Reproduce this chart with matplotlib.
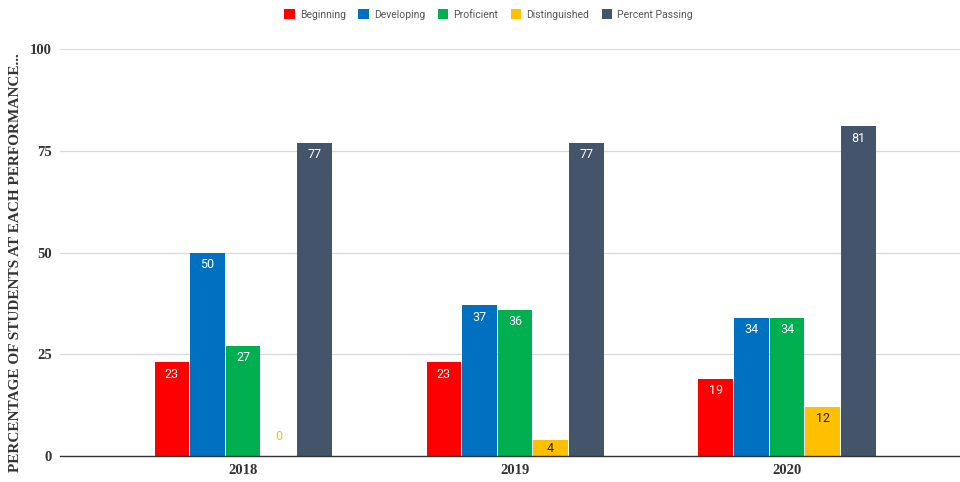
import matplotlib
matplotlib.use("Agg")
import matplotlib.pyplot as plt
import numpy as np

years = ["2018", "2019", "2020"]
series = ["Beginning", "Developing", "Proficient", "Distinguished", "Percent Passing"]
beginning = [23, 23, 19]
developing = [50, 37, 34]
proficient = [27, 36, 34]
distinguished = [0, 4, 12]
percent_passing = [77, 77, 81]
values = [beginning, developing, proficient, distinguished, percent_passing]
colors = ["#FF0000", "#0070C0", "#00B050", "#FFC000", "#44546A"]
yticks = [0, 25, 50, 75, 100]

fig = plt.figure(figsize=(9.6, 4.82), dpi=100)
ax = fig.add_axes([0.0625, 0.054, 0.9375, 0.844])

x = np.arange(len(years))
pitch = 0.131
width = 0.127

for i, (name, vals, col) in enumerate(zip(series, values, colors)):
    xs = x + (i - 2) * pitch
    ax.bar(xs, vals, width, color=col, label=name, zorder=3)
    for xi, v in zip(xs, vals):
        if v == 0:
            ax.annotate(str(v), (xi, v), xytext=(0, 14), textcoords="offset points",
                        ha="center", va="center", color=col, fontsize=9, family="Roboto")
        elif name == "Distinguished":
            ax.annotate(str(v), (xi, v), xytext=(0, -6 if v < 8 else -8.5),
                        textcoords="offset points", ha="center", va="center",
                        color="#222222", fontsize=9, family="Roboto")
        else:
            ax.annotate(str(v), (xi, v), xytext=(0, -8.5), textcoords="offset points",
                        ha="center", va="center", color="white", fontsize=9, family="Roboto")

ax.set_xlim(-0.673, 2.636)
ax.set_ylim(0, 100)
ax.set_yticks(yticks)
ax.set_xticks(x)
ax.set_xticklabels(years)
for lab in ax.get_xticklabels() + ax.get_yticklabels():
    lab.set_family("Liberation Serif")
    lab.set_fontweight("bold")
    lab.set_fontsize(10.5)
    lab.set_color("#333333")
ax.tick_params(axis="both", length=0, pad=6)
ax.grid(axis="y", color="#d9d9d9", linewidth=0.9, zorder=0)
for s in ["top", "right", "left"]:
    ax.spines[s].set_visible(False)
ax.spines["bottom"].set_color("#333333")
ax.spines["bottom"].set_linewidth(1.0)
ax.spines["bottom"].set_zorder(4)

fig.text(0.016, 0.456, "PERCENTAGE OF STUDENTS AT EACH PERFORMANCE...",
         rotation=90, ha="center", va="center", family="Liberation Serif",
         fontweight="bold", fontsize=11, color="#333333")

leg = fig.legend(loc="upper center", bbox_to_anchor=(0.509, 1.0), ncol=5, frameon=False,
                 handlelength=1.0, handleheight=1.0, handletextpad=0.5, columnspacing=1.2,
                 prop={"family": "Roboto", "size": 7.5})
for t in leg.get_texts():
    t.set_color("#555555")

fig.savefig("out.png", dpi=100)
